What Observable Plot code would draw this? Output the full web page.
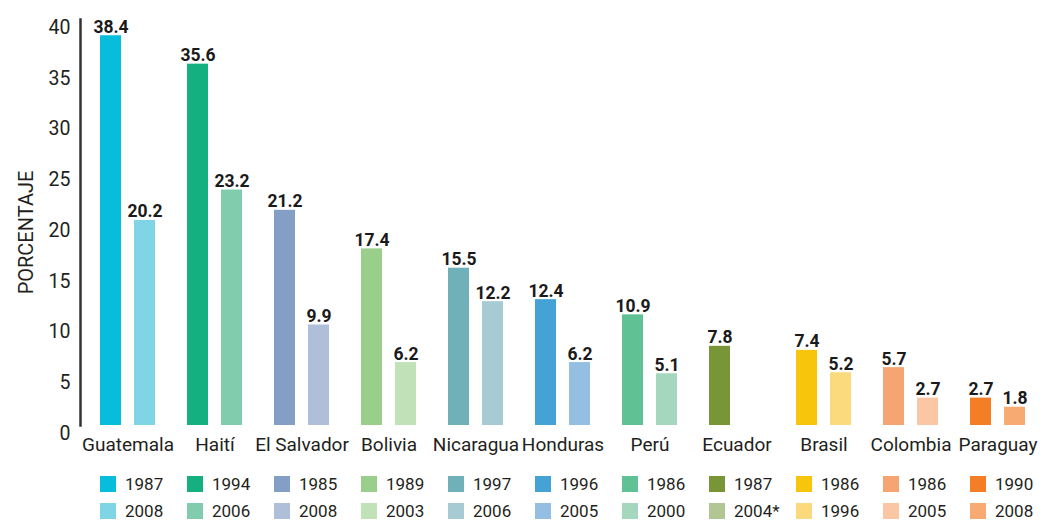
<!DOCTYPE html>
<html>
<head>
<meta charset="utf-8">
<script src="https://cdn.jsdelivr.net/npm/d3@7"></script>
<script src="https://cdn.jsdelivr.net/npm/@observablehq/plot@0.6"></script>
<style>
  html, body { margin: 0; padding: 0; background: #fff; }
  #wrap { width: 1043px; position: relative; }
  #legend { position: relative; width: 1043px; height: 61px; }
  .item { position: absolute; display: flex; align-items: center; height: 16px;
          font-family: Roboto, "Liberation Sans", sans-serif;
          font-size: 17px; color: #231f20; white-space: nowrap; }
  .sw { width: 16px; height: 16px; margin-right: 9px; flex: none; }
</style>
</head>
<body>
<div id="wrap"></div>
<script>
const countries = ["Guatemala", "Haití", "El Salvador", "Bolivia", "Nicaragua", "Honduras", "Perú", "Ecuador", "Brasil", "Colombia", "Paraguay"];
const yearsA = ["1987", "1994", "1985", "1989", "1997", "1996", "1986", "1987", "1986", "1986", "1990"];
const yearsB = ["2008", "2006", "2008", "2003", "2006", "2005", "2000", "2004*", "1996", "2005", "2008"];
const valuesA = [38.4, 35.6, 21.2, 17.4, 15.5, 12.4, 10.9, 7.8, 7.4, 5.7, 2.7];
const valuesB = [20.2, 23.2, 9.9, 6.2, 12.2, 6.2, 5.1, null, 5.2, 2.7, 1.8];
const colorsA = ["#08bcdc", "#14b07f", "#839fc5", "#99cf8a", "#6fb0b9", "#44a2d5", "#5fc194", "#789537", "#f7c60c", "#f6a472", "#f47e25"];
const colorsB = ["#7fd4e6", "#82ccae", "#afbed9", "#c1e1b8", "#a7cbd3", "#94bfe3", "#a5d6be", "#b2c693", "#fbda7e", "#fbc6a3", "#f7ab73"];
const yTicks = [0, 5, 10, 15, 20, 25, 30, 35, 40];
const yLabel = "PORCENTAJE";

const FONT = 'Roboto, "Liberation Sans", sans-serif';

const rows = [];
countries.forEach((c, i) => {
  rows.push({country: c, slot: "a", value: valuesA[i], year: yearsA[i], color: colorsA[i]});
  if (valuesB[i] != null) rows.push({country: c, slot: "b", value: valuesB[i], year: yearsB[i], color: colorsB[i]});
});

const plot = Plot.plot({
  width: 1043,
  height: 462,
  marginLeft: 77,
  marginRight: 3.5,
  marginTop: 19,
  marginBottom: 37,
  style: {fontFamily: FONT, color: "#231f20", background: "#fff"},
  fx: {domain: countries, padding: 0, axis: null, label: null},
  x: {domain: ["a", "b"], paddingInner: 0.39, paddingOuter: 0.464, align: 0.625, axis: null, label: null},
  y: {domain: [0, 40], axis: null},
  color: {type: "identity"},
  marks: [
    Plot.barY(rows, {fx: "country", x: "slot", y: "value", fill: "color"}),
    Plot.text(rows, {fx: "country", x: "slot", y: "value", text: d => d.value.toFixed(1),
      lineAnchor: "bottom", dy: -3, fontSize: 17.5, fontWeight: "bold", fill: "#1a1a1a"}),
    Plot.text(countries, {fx: d => d, text: d => d, frameAnchor: "bottom", lineAnchor: "top",
      dx: 4, dy: 12, fontSize: 19, fill: "#231f20"}),
    Plot.axisY(yTicks, {tickSize: 0, tickPadding: 10, dy: 8, fontSize: 19.5, label: null}),
    Plot.text([yLabel], {frameAnchor: "left", facetAnchor: "left", rotate: -90, textAnchor: "middle",
      dx: -54, dy: 10, fontSize: 20, fill: "#231f20"}),
    Plot.frame({anchor: "left", facetAnchor: "left", stroke: "#333", strokeWidth: 2.5})
  ]
});
document.getElementById("wrap").appendChild(plot);

// legend below the SVG, aligned to each country's first bar
const fx = plot.scale("fx");
const xs = plot.scale("x");
const legend = document.createElement("div");
legend.id = "legend";
countries.forEach((c, i) => {
  const left = fx.apply(c) + xs.apply("a") - xs.range[0];
  [[yearsA[i], colorsA[i], 14], [yearsB[i], colorsB[i], 41]].forEach(([yr, col, top]) => {
    const it = document.createElement("div");
    it.className = "item";
    it.style.left = left + "px";
    it.style.top = top + "px";
    it.innerHTML = `<span class="sw" style="background:${col}"></span><span>${yr}</span>`;
    legend.appendChild(it);
  });
});
document.getElementById("wrap").appendChild(legend);
</script>
</body>
</html>
